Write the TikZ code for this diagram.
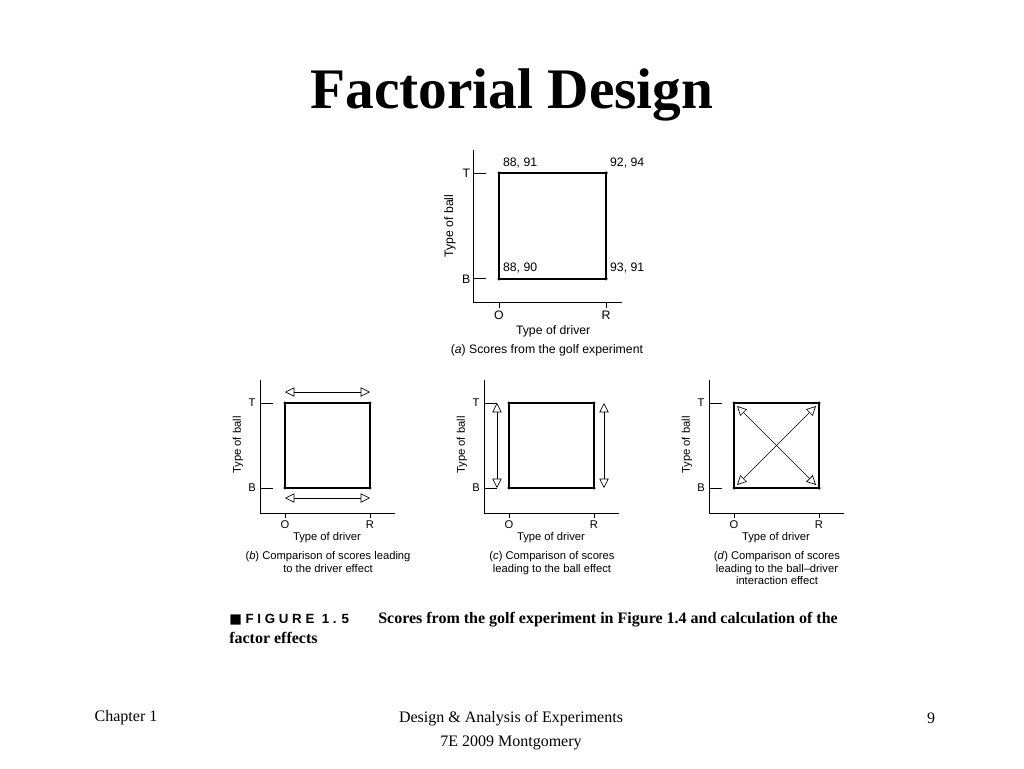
\documentclass[tikz,border=0pt]{standalone}
\usepackage{fontspec}
\setmainfont{Liberation Serif}
\newfontfamily\figfont{Liberation Sans}
\newfontfamily\symfont{DejaVu Sans}
\usetikzlibrary{positioning,arrows.meta}
\tikzset{
  corner/.style={circle, fill, inner sep=0, minimum size=2.6pt},
  lbl/.style={font=\figfont\fontsize{8.4}{9.6}\selectfont, inner sep=0},
  biglbl/.style={font=\figfont\fontsize{9.2}{10}\selectfont, inner sep=0},
  axis/.style={line width=0.6pt},
  sq/.style={line width=1.4pt},
  eff/.style={line width=0.5pt, {Triangle[open,length=7pt,width=7pt]}-{Triangle[open,length=7pt,width=7pt]}}
}
% one panel: axes, square and labels; corners named (o) (r) (ot) (rt)
\newcommand\golfpanel{%
  \draw[axis] (-25,-23) -- (-25,110) (-25,110) -- (110,110);
  \draw[axis] (-25,0) -- (-12,0) (-25,85) -- (-12,85)
              (0,110) -- (0,115) (85,110) -- (85,115);
  \node[corner] (ot) at (0,0) {};
  \node[corner] (rt) at (85,0) {};
  \node[corner] (o) at (0,85) {};
  \node[corner] (r) at (85,85) {};
  \draw[sq] (o.center) -- (r.center) -- (rt.center) -- (ot.center) -- cycle;
  \node[lbl] (t) at (-33,0) {T};
  \node[lbl] (b) at (-33,85) {B};
  \node[lbl] (xo) at (0,122) {O};
  \node[lbl] (xr) at (85,122) {R};
  \node[lbl, rotate=90] (yl) at (-47,42) {Type of ball};
  \node[lbl] (xl) at (42,135) {Type of driver};
}
\begin{document}
\begin{tikzpicture}[x=0.75pt, y=-0.75pt]
\useasboundingbox (0,0) rectangle (1024,768);
\node[font=\fontsize{43}{48}\selectfont\bfseries] (title) at (512,95) {Factorial Design};

% (a)
\begin{scope}[name prefix=a-, shift={(499,173)}, scale=1.26]
  \draw[axis] (-20,-18) -- (-20,103) -- (98,103);
  \draw[axis] (-20,0) -- (-10,0) (-20,84) -- (-10,84)
              (0,103) -- (0,107) (85,103) -- (85,107);
  \node[corner] (ot) at (0,0) {};
  \node[corner] (rt) at (85,0) {};
  \node[corner] (o) at (0,84) {};
  \node[corner] (r) at (85,84) {};
  \draw[sq] (o.center) -- (r.center) -- (rt.center) -- (ot.center) -- cycle;
  \node[biglbl] (t) at (-26,0) {T};
  \node[biglbl] (b) at (-26,84) {B};
  \node[biglbl] (xo) at (0,113) {O};
  \node[biglbl] (xr) at (85,113) {R};
  \node[biglbl, rotate=90] (yl) at (-39,42) {Type of ball};
  \node[biglbl] (xl) at (43,126) {Type of driver};
  \node[biglbl] (cap) at (38,141) {(\textit{a}) Scores from the golf experiment};
  \node[biglbl, anchor=south west] (v1) at (3,-4) {88, 91};
  \node[biglbl, anchor=south west] (v2) at (88,-4) {92, 94};
  \node[biglbl, anchor=south west] (v3) at (3,80) {88, 90};
  \node[biglbl, anchor=south west] (v4) at (88,80) {93, 91};
\end{scope}

% (b)
\begin{scope}[name prefix=b-, shift={(285,403)}]
  \golfpanel
  \coordinate (tl) at (0,-11);  \coordinate (tr) at (85,-11);
  \coordinate (bl) at (0,95);   \coordinate (br) at (85,95);
  \draw[eff] (tl) -- (tr);
  \draw[eff] (bl) -- (br);
  \node[lbl, align=center, anchor=north] (cap) at (43,148)
    {(\textit{b}) Comparison of scores leading\\to the driver effect};
\end{scope}

% (c)
\begin{scope}[name prefix=c-, shift={(509,403)}]
  \golfpanel
  \coordinate (lt) at (-12,0);  \coordinate (lb) at (-12,85);
  \coordinate (rt2) at (95,0);  \coordinate (rb) at (95,85);
  \draw[eff] (lt) -- (lb);
  \draw[eff] (rt2) -- (rb);
  \node[lbl, align=center, anchor=north] (cap) at (43,148)
    {(\textit{c}) Comparison of scores\\leading to the ball effect};
\end{scope}

% (d)
\begin{scope}[name prefix=d-, shift={(734,403)}]
  \golfpanel
  \coordinate (p1) at (3,3);   \coordinate (p2) at (82,82);
  \coordinate (p3) at (82,3);  \coordinate (p4) at (3,82);
  \draw[eff] (p1) -- (p2);
  \draw[eff] (p3) -- (p4);
  \node[lbl, align=center, anchor=north] (cap) at (43,148)
    {(\textit{d}) Comparison of scores\\leading to the ball–driver\\interaction effect};
\end{scope}

% figure caption
\node[anchor=west, inner sep=0, font=\figfont\fontsize{10}{11}\selectfont] (fig) at (229,620)
  {{\symfont ■}\ \textbf{F I G U R E\ \ 1 . 5}};
\node[anchor=west, inner sep=0, font=\fontsize{12}{13}\selectfont\bfseries] (figtxt) at (378,620)
  {Scores from the golf experiment in Figure 1.4 and calculation of the};
\node[anchor=west, inner sep=0, font=\fontsize{12}{13}\selectfont\bfseries] (figtxt2) at (229,638)
  {factor effects};

% footer
\node[font=\fontsize{12}{14}\selectfont] (ch) at (126,718) {Chapter 1};
\node[align=center, anchor=north, font=\fontsize{12}{18}\selectfont] (book) at (511,707)
  {Design \& Analysis of Experiments\\7E 2009 Montgomery};
\node[font=\fontsize{12}{14}\selectfont] (pg) at (931,718) {9};
\end{tikzpicture}
\end{document}
